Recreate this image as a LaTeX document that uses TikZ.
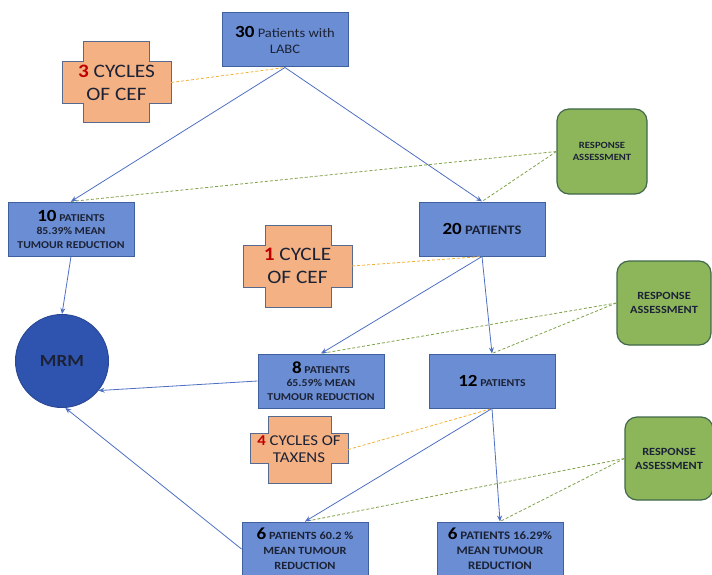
\documentclass[tikz,border=0pt]{standalone}
\usepackage{fontspec}
\setmainfont{Carlito}[FakeStretch=1.12]
\usetikzlibrary{arrows.meta}
\definecolor{boxfill}{HTML}{6A8DD3}
\definecolor{boxline}{HTML}{3F5F9F}
\definecolor{crossfill}{HTML}{F4B183}
\definecolor{crossline}{HTML}{56698F}
\definecolor{rafill}{HTML}{8DB65B}
\definecolor{raline}{HTML}{41684B}
\definecolor{mrmfill}{HTML}{2F54B0}
\definecolor{mrmline}{HTML}{2A4896}
\definecolor{flow}{HTML}{4E6FC2}
\definecolor{orangedash}{HTML}{F2B134}
\definecolor{greendash}{HTML}{7FA24A}
\definecolor{numred}{HTML}{C00000}
\definecolor{txt}{HTML}{1C2236}
\newcommand\fs[2]{\fontsize{#1}{#2}\selectfont}
\newcommand\bignum[1]{{\bfseries\fs{17}{18}\color{black}#1}}
\begin{document}
\begin{tikzpicture}[x=1pt,y=-1pt,
  box/.style={draw=boxline, line width=1pt, fill=boxfill, minimum width=126pt, minimum height=54pt, inner sep=2pt, align=center, text=txt},
  ra/.style={draw=raline, line width=1.2pt, fill=rafill, rounded corners=12pt, align=center, text=txt, inner sep=0pt},
  crossshape/.style={draw=crossline, line width=1pt, fill=crossfill},
  crosslabel/.style={align=center, text=txt, inner sep=0pt},
  flowarrow/.style={draw=flow, line width=0.8pt, -{Stealth[length=6pt,width=5pt]}},
  odash/.style={draw=orangedash, line width=0.8pt, dash pattern=on 3pt off 2pt},
  gdash/.style={draw=greendash, line width=0.8pt, dash pattern=on 3pt off 2pt}]
\useasboundingbox (0,0) rectangle (712,575);

% crosses
\draw[crossshape] (83,42) -- (149,42) -- (149,62) -- (171,62) -- (171,104) -- (149,104) -- (149,123) -- (83,123) -- (83,104) -- (62,104) -- (62,62) -- (83,62) -- cycle;
\node[crosslabel, minimum width=109pt, minimum height=81pt, font=\fs{19}{23}] (c1) at (116.5,82.5) {{\color{numred}\bfseries 3} CYCLES\\OF CEF};

\draw[crossshape] (265,225) -- (331,225) -- (331,245) -- (352,245) -- (352,287) -- (331,287) -- (331,307) -- (265,307) -- (265,287) -- (243,287) -- (243,245) -- (265,245) -- cycle;
\node[crosslabel, minimum width=109pt, minimum height=82pt, font=\fs{19}{23}] (c2) at (297.5,266) {{\color{numred}\bfseries 1} CYCLE\\OF CEF};

\draw[crossshape] (268,416) -- (331,416) -- (331,433) -- (348,433) -- (348,463) -- (331,463) -- (331,483) -- (268,483) -- (268,463) -- (250,463) -- (250,433) -- (268,433) -- cycle;
\node[crosslabel, minimum width=98pt, minimum height=67pt, font=\fs{15}{17}] (c3) at (299,449.5) {{\color{numred}\bfseries 4} CYCLES OF\\TAXENS};

% boxes
\node[box, font=\fs{13}{16}] (top) at (285,40) {\bignum{30} Patients with\\LABC};
\node[box, font=\bfseries\fs{10.5}{13.5}] (n10) at (71,229) {\bignum{10} PATIENTS\\85.39\% MEAN\\TUMOUR REDUCTION};
\node[box, font=\bfseries\fs{13}{16}] (n20) at (482,229) {\bignum{20} PATIENTS};
\node[box, font=\bfseries\fs{10.5}{13.5}] (n8) at (321,381) {\bignum{8} PATIENTS\\65.59\% MEAN\\TUMOUR REDUCTION};
\node[box, font=\bfseries\fs{10.5}{13}] (n12) at (492,381) {\bignum{12} PATIENTS};
\node[box, font=\bfseries\fs{11}{15}] (n6a) at (305,549) {\bignum{6} PATIENTS 60.2 \%\\MEAN TUMOUR\\REDUCTION};
\node[box, font=\bfseries\fs{11.5}{15}] (n6b) at (500,549) {\bignum{6} PATIENTS 16.29\%\\MEAN TUMOUR\\REDUCTION};

% MRM
\node[circle, minimum size=93pt, fill=mrmfill, draw=mrmline, line width=1pt, font=\bfseries\fs{17}{20}, text=txt] (mrm) at (62,361) {MRM};

% response assessments
\node[ra, minimum width=90pt, minimum height=85pt, font=\bfseries\fs{9.5}{12}] (ra1) at (602,151.5) {RESPONSE\\ASSESSMENT};
\node[ra, minimum width=94pt, minimum height=84pt, font=\bfseries\fs{11}{14}] (ra2) at (664,303) {RESPONSE\\ASSESSMENT};
\node[ra, minimum width=88pt, minimum height=83pt, font=\bfseries\fs{11}{14}] (ra3) at (669,458.5) {RESPONSE\\ASSESSMENT};

% dashed links
\draw[odash] (c1.east) -- (top.south);
\draw[odash] (c2.east) -- (n20.south);
\draw[odash] (c3.east) -- (n12.south);
\draw[gdash] (ra1.west) -- (n10.north);
\draw[gdash] (ra1.west) -- (n20.north);
\draw[gdash] (ra2.west) -- (n8.north);
\draw[gdash] (ra2.west) -- (n12.north);
\draw[gdash] (ra3.west) -- (n6a.north);
\draw[gdash] (ra3.west) -- (n6b.north);

% flow arrows
\draw[flowarrow] (top.south) -- (n10.north);
\draw[flowarrow] (top.south) -- (n20.north);
\draw[flowarrow] (n20.south) -- (n8.north);
\draw[flowarrow] (n20.south) -- (n12.north);
\draw[flowarrow] (n12.south) -- (n6a.north);
\draw[flowarrow] (n12.south) -- (n6b.north);
\draw[flowarrow] (n10.south) -- (mrm.north);
\draw[flowarrow] (n8.west) -- (mrm.-39);
\draw[flowarrow] (n6a.west) -- (mrm.-86);
\end{tikzpicture}
\end{document}
